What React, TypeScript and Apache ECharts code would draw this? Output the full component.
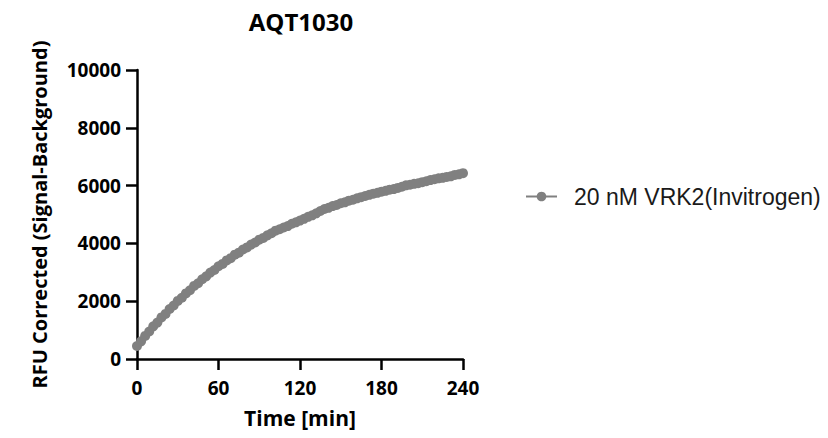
import React, { useEffect, useRef } from "react";
import * as echarts from "echarts";

const chartTitle = "AQT1030";
const seriesName = "20 nM VRK2(Invitrogen)";
const xAxisName = "Time [min]";
const yAxisName = "RFU Corrected (Signal-Background)";

const timeMin = [
  0, 3, 6, 9, 12, 15, 18, 21, 24, 27, 30, 33, 36, 39, 42, 45, 48, 51, 54, 57,
  60, 63, 66, 69, 72, 75, 78, 81, 84, 87, 90, 93, 96, 99, 102, 105, 108, 111,
  114, 117, 120, 123, 126, 129, 132, 135, 138, 141, 144, 147, 150, 153, 156,
  159, 162, 165, 168, 171, 174, 177, 180, 183, 186, 189, 192, 195, 198, 201,
  204, 207, 210, 213, 216, 219, 222, 225, 228, 231, 234, 237, 240,
];

const rfu = [
  450, 610, 800, 950, 1130, 1260, 1440, 1560, 1730, 1850, 2010, 2120, 2270,
  2380, 2530, 2620, 2760, 2860, 2990, 3080, 3210, 3290, 3410, 3490, 3610, 3680,
  3790, 3860, 3960, 4030, 4130, 4190, 4280, 4350, 4440, 4490, 4550, 4600, 4680,
  4730, 4790, 4850, 4920, 4970, 5040, 5120, 5190, 5230, 5290, 5330, 5390, 5420,
  5480, 5510, 5560, 5600, 5640, 5680, 5720, 5750, 5790, 5820, 5860, 5880, 5920,
  5960, 6010, 6030, 6060, 6080, 6120, 6150, 6190, 6220, 6250, 6270, 6300, 6320,
  6370, 6390, 6430,
];

const xTicks = { min: 0, max: 240, interval: 60 };
const yTicks = { min: 0, max: 10000, interval: 2000 };

export default function App() {
  const ref = useRef<HTMLDivElement>(null);
  useEffect(() => {
    if (!ref.current) return;
    const chart = echarts.init(ref.current, null, { renderer: "svg" });
    const axisFont = {
      fontFamily: "Open Sans",
      fontWeight: "bold" as const,
      color: "#000",
    };
    chart.setOption({
      animation: false,
      backgroundColor: "#fff",
      title: {
        text: chartTitle,
        left: 296,
        top: 4,
        textAlign: "center",
        textStyle: { ...axisFont, fontSize: 24 },
      },
      grid: { left: 137, right: 365, top: 70, bottom: 79 },
      legend: {
        left: 520,
        top: 180,
        itemWidth: 31,
        itemHeight: 12,
        itemGap: 10,
        data: [seriesName],
        textStyle: {
          fontFamily: "Liberation Sans",
          fontSize: 23,
          color: "#1a1a1a",
          padding: [0, 0, 0, 12],
        },
      },
      xAxis: {
        type: "value",
        min: xTicks.min,
        max: xTicks.max,
        interval: xTicks.interval,
        name: xAxisName,
        nameLocation: "middle",
        nameGap: 48,
        nameTextStyle: { ...axisFont, fontSize: 21 },
        axisLine: { lineStyle: { color: "#000", width: 2.5 } },
        axisTick: { show: true, length: 11, lineStyle: { color: "#000", width: 2.5 } },
        axisLabel: { ...axisFont, fontSize: 19, margin: 19 },
        splitLine: { show: false },
      },
      yAxis: {
        type: "value",
        min: yTicks.min,
        max: yTicks.max,
        interval: yTicks.interval,
        name: yAxisName,
        nameLocation: "middle",
        nameGap: 88,
        nameTextStyle: { ...axisFont, fontSize: 20 },
        axisLine: { show: true, lineStyle: { color: "#000", width: 2.5 } },
        axisTick: { show: true, length: 11, lineStyle: { color: "#000", width: 2.5 } },
        axisLabel: {
          ...axisFont,
          fontSize: 19,
          margin: 16,
          formatter: (v: number) => String(v),
        },
        splitLine: { show: false },
      },
      series: [
        {
          name: seriesName,
          type: "line",
          data: timeMin.map((t, i) => [t, rfu[i]]),
          color: "#808080",
          symbol: "circle",
          symbolSize: 10,
          showAllSymbol: true,
          lineStyle: { color: "#808080", width: 2 },
          itemStyle: { color: "#808080" },
        },
      ],
    });
    return () => chart.dispose();
  }, []);
  return <div ref={ref} style={{ width: 828, height: 438, margin: -8 }} />;
}
